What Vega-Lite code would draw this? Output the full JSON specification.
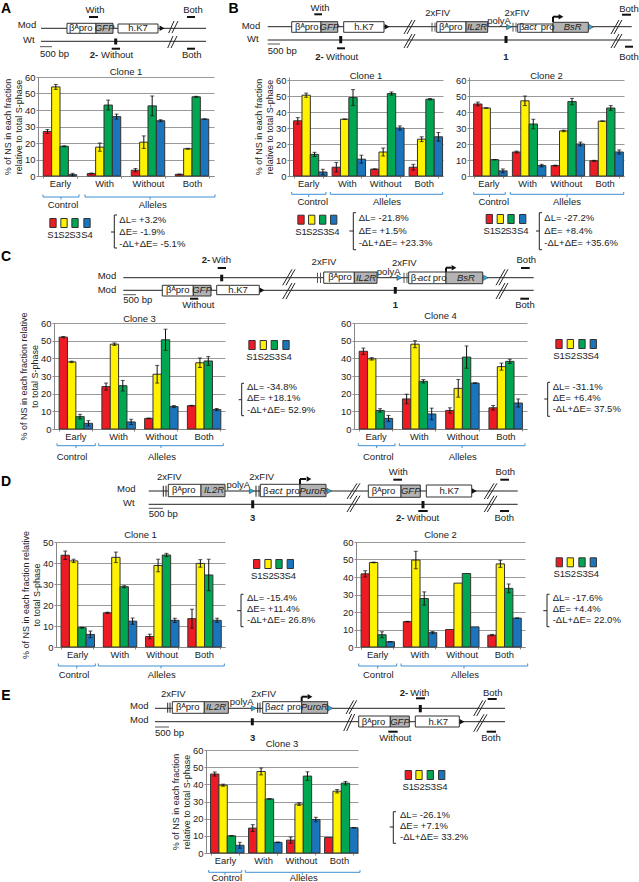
{"$schema":"https://vega.github.io/schema/vega-lite/v6.json","padding":0,"background":"white","spacing":-40,"align":"none",
"config":{"font":"Liberation Sans","view":{"stroke":null},"range":{"category":["#ed1c24","#fff200","#00a651","#1b75bc"]},"text":{"fontSize":9.5,"color":"#222"},"title":{"fontSize":9.5,"fontWeight":"normal","color":"#222"},"axis":{"labelFontSize":9.4,"labelColor":"#222","titleFontSize":9,"titleFontWeight":"normal","titleColor":"#222","tickColor":"#888","domainColor":"#888","gridColor":"#999","tickSize":2,"labelPadding":1},"axisX":{"grid":false,"labelAngle":0,"tickBand":"extent","labelPadding":1},"axisY":{"grid":true,"titlePadding":1,"titleLineHeight":11.5,"tickCount":7}},
"datasets":{
"A":[{"g":"Early","s":"S1","v":27,"l":25.8,"h":28.2},{"g":"Early","s":"S2","v":54,"l":52.5,"h":55.5},{"g":"Early","s":"S3","v":18,"l":17.7,"h":18.3},{"g":"Early","s":"S4","v":0.8,"l":0.1,"h":1.6},{"g":"With","s":"S1","v":1.5,"l":1.2,"h":1.8},{"g":"With","s":"S2","v":17.5,"l":15,"h":20},{"g":"With","s":"S3","v":43,"l":40,"h":46},{"g":"With","s":"S4","v":36,"l":34.5,"h":37.5},{"g":"Without","s":"S1","v":3.5,"l":2.5,"h":4.5},{"g":"Without","s":"S2","v":20.5,"l":16.7,"h":24.3},{"g":"Without","s":"S3","v":42.5,"l":36.5,"h":48.5},{"g":"Without","s":"S4","v":33.5,"l":32.9,"h":34.1},{"g":"Both","s":"S1","v":1,"l":0.8,"h":1.2},{"g":"Both","s":"S2","v":16.5,"l":16.2,"h":16.8},{"g":"Both","s":"S3","v":48,"l":47.7,"h":48.3},{"g":"Both","s":"S4","v":34.5,"l":34.4,"h":34.6}],
"B1":[{"g":"Early","s":"S1","v":34.5,"l":32.5,"h":36.5},{"g":"Early","s":"S2","v":50.5,"l":49.2,"h":51.8},{"g":"Early","s":"S3","v":13.5,"l":12.2,"h":14.8},{"g":"Early","s":"S4","v":2.5,"l":0.8,"h":4.2},{"g":"With","s":"S1","v":5.5,"l":2.5,"h":8.5},{"g":"With","s":"S2","v":35.5,"l":35.4,"h":35.6},{"g":"With","s":"S3","v":49,"l":44,"h":54},{"g":"With","s":"S4","v":10.5,"l":8,"h":13},{"g":"Without","s":"S1","v":4.3,"l":4.2,"h":4.4},{"g":"Without","s":"S2","v":15,"l":12.5,"h":17.5},{"g":"Without","s":"S3","v":51.5,"l":50.5,"h":52.5},{"g":"Without","s":"S4","v":30,"l":28.7,"h":31.3},{"g":"Both","s":"S1","v":5.5,"l":3.7,"h":7.3},{"g":"Both","s":"S2","v":23,"l":21.5,"h":24.5},{"g":"Both","s":"S3","v":48,"l":47.6,"h":48.4},{"g":"Both","s":"S4","v":24.5,"l":21.8,"h":27.2}],
"B2":[{"g":"Early","s":"S1","v":45,"l":43.8,"h":46.2},{"g":"Early","s":"S2","v":42.5,"l":42.4,"h":42.6},{"g":"Early","s":"S3","v":10.2,"l":10.1,"h":10.3},{"g":"Early","s":"S4","v":3.2,"l":2,"h":4.4},{"g":"With","s":"S1","v":15,"l":14.4,"h":15.6},{"g":"With","s":"S2","v":47,"l":44,"h":50},{"g":"With","s":"S3","v":32.5,"l":29.5,"h":35.5},{"g":"With","s":"S4","v":6.5,"l":5.7,"h":7.3},{"g":"Without","s":"S1","v":6.5,"l":6.2,"h":6.8},{"g":"Without","s":"S2","v":28.2,"l":27.7,"h":28.7},{"g":"Without","s":"S3","v":46.5,"l":44.5,"h":48.5},{"g":"Without","s":"S4","v":20,"l":18.8,"h":21.2},{"g":"Both","s":"S1","v":9.5,"l":9.2,"h":9.8},{"g":"Both","s":"S2","v":34.3,"l":34.2,"h":34.4},{"g":"Both","s":"S3","v":42.5,"l":41,"h":44},{"g":"Both","s":"S4","v":15,"l":13.7,"h":16.3}],
"C3":[{"g":"Early","s":"S1","v":52,"l":51.7,"h":52.3},{"g":"Early","s":"S2","v":38,"l":37.6,"h":38.4},{"g":"Early","s":"S3","v":7,"l":5.7,"h":8.3},{"g":"Early","s":"S4","v":3.2,"l":1.7,"h":4.7},{"g":"With","s":"S1","v":24,"l":22,"h":26},{"g":"With","s":"S2","v":48,"l":47.3,"h":48.7},{"g":"With","s":"S3","v":24.5,"l":21.5,"h":27.5},{"g":"With","s":"S4","v":4,"l":2.5,"h":5.5},{"g":"Without","s":"S1","v":6,"l":5.8,"h":6.2},{"g":"Without","s":"S2","v":31,"l":26,"h":36},{"g":"Without","s":"S3","v":50.5,"l":44.5,"h":56.5},{"g":"Without","s":"S4","v":12.7,"l":12.1,"h":13.3},{"g":"Both","s":"S1","v":13.2,"l":13,"h":13.4},{"g":"Both","s":"S2","v":37.5,"l":34.8,"h":40.2},{"g":"Both","s":"S3","v":38.5,"l":36,"h":41},{"g":"Both","s":"S4","v":11,"l":10.4,"h":11.6}],
"C4":[{"g":"Early","s":"S1","v":44,"l":42.2,"h":45.8},{"g":"Early","s":"S2","v":39.7,"l":39,"h":40.4},{"g":"Early","s":"S3","v":10.5,"l":9.5,"h":11.5},{"g":"Early","s":"S4","v":6,"l":4.3,"h":7.7},{"g":"With","s":"S1","v":17,"l":14.3,"h":19.7},{"g":"With","s":"S2","v":48,"l":46,"h":50},{"g":"With","s":"S3","v":27,"l":26,"h":28},{"g":"With","s":"S4","v":8.5,"l":5.2,"h":11.8},{"g":"Without","s":"S1","v":10.5,"l":9,"h":12},{"g":"Without","s":"S2","v":23,"l":18,"h":28},{"g":"Without","s":"S3","v":40.7,"l":34.4,"h":47},{"g":"Without","s":"S4","v":26,"l":25.9,"h":26.1},{"g":"Both","s":"S1","v":12,"l":10.7,"h":13.3},{"g":"Both","s":"S2","v":35.3,"l":33.3,"h":37.3},{"g":"Both","s":"S3","v":38.3,"l":37.1,"h":39.5},{"g":"Both","s":"S4","v":14.7,"l":12.4,"h":17}],
"D1":[{"g":"Early","s":"S1","v":43.7,"l":41.7,"h":45.7},{"g":"Early","s":"S2","v":41,"l":40.2,"h":41.8},{"g":"Early","s":"S3","v":9.2,"l":9,"h":9.4},{"g":"Early","s":"S4","v":6,"l":4.4,"h":7.6},{"g":"With","s":"S1","v":16.3,"l":16,"h":16.6},{"g":"With","s":"S2","v":42.7,"l":40.2,"h":45.2},{"g":"With","s":"S3","v":28.7,"l":28.2,"h":29.2},{"g":"With","s":"S4","v":12.3,"l":10.8,"h":13.8},{"g":"Without","s":"S1","v":5,"l":3.9,"h":6.1},{"g":"Without","s":"S2","v":38.8,"l":35.8,"h":41.8},{"g":"Without","s":"S3","v":43.8,"l":43,"h":44.6},{"g":"Without","s":"S4","v":12.7,"l":11.7,"h":13.7},{"g":"Both","s":"S1","v":13.5,"l":9,"h":18},{"g":"Both","s":"S2","v":39.8,"l":38,"h":41.6},{"g":"Both","s":"S3","v":34.3,"l":26.8,"h":41.8},{"g":"Both","s":"S4","v":12.7,"l":11.7,"h":13.7}],
"D2":[{"g":"Early","s":"S1","v":41.8,"l":40,"h":43.6},{"g":"Early","s":"S2","v":48.3,"l":48.1,"h":48.5},{"g":"Early","s":"S3","v":7,"l":5.3,"h":8.7},{"g":"Early","s":"S4","v":3,"l":2.9,"h":3.1},{"g":"With","s":"S1","v":14.5,"l":14.3,"h":14.7},{"g":"With","s":"S2","v":49.7,"l":44.7,"h":54.7},{"g":"With","s":"S3","v":27.7,"l":23.9,"h":31.5},{"g":"With","s":"S4","v":8.2,"l":7.6,"h":8.8},{"g":"Without","s":"S1","v":10},{"g":"Without","s":"S2","v":36.5},{"g":"Without","s":"S3","v":42},{"g":"Without","s":"S4","v":11.5},{"g":"Both","s":"S1","v":6.8,"l":6.4,"h":7.2},{"g":"Both","s":"S2","v":47.5,"l":45.5,"h":49.5},{"g":"Both","s":"S3","v":33.5,"l":31,"h":36},{"g":"Both","s":"S4","v":16.5,"l":16.4,"h":16.6}],
"E3":[{"g":"Early","s":"S1","v":46,"l":44.8,"h":47.2},{"g":"Early","s":"S2","v":39.5,"l":38.9,"h":40.1},{"g":"Early","s":"S3","v":10,"l":9.9,"h":10.1},{"g":"Early","s":"S4","v":4.5,"l":2.8,"h":6.2},{"g":"With","s":"S1","v":14.5,"l":12.5,"h":16.5},{"g":"With","s":"S2","v":47.5,"l":45.5,"h":49.5},{"g":"With","s":"S3","v":31.5,"l":31.4,"h":31.6},{"g":"With","s":"S4","v":6.2,"l":6,"h":6.4},{"g":"Without","s":"S1","v":7.5,"l":5.7,"h":9.3},{"g":"Without","s":"S2","v":28.5,"l":27.7,"h":29.3},{"g":"Without","s":"S3","v":44.8,"l":42.3,"h":47.3},{"g":"Without","s":"S4","v":19.5,"l":18.2,"h":20.8},{"g":"Both","s":"S1","v":9},{"g":"Both","s":"S2","v":36,"l":35,"h":37},{"g":"Both","s":"S3","v":40.7,"l":39.7,"h":41.7},{"g":"Both","s":"S4","v":14.7,"l":14.6,"h":14.8}]
},
"vconcat":[
{"width":639,"height":107,"encoding":{"x":{"field":"x","type":"quantitative","scale":{"domain":[0,6390]},"axis":null},"y":{"field":"y","type":"quantitative","scale":{"domain":[0,1070],"reverse":true},"axis":null}},"layer":[
{"data":{"values":[{"x":400,"u":2050,"y":283,"v":283},{"x":400,"u":2050,"y":413,"v":413},{"x":1677,"u":1730,"y":330,"v":210},{"x":1710,"u":1770,"y":330,"v":210},{"x":1667,"u":1720,"y":480,"v":360},{"x":1700,"u":1760,"y":480,"v":360},{"x":2667,"u":6307,"y":267,"v":267},{"x":2667,"u":6307,"y":400,"v":400},{"x":4030,"u":4110,"y":340,"v":200},{"x":4060,"u":4140,"y":340,"v":200},{"x":4030,"u":4110,"y":480,"v":340},{"x":4060,"u":4140,"y":480,"v":340},{"x":6100,"u":6180,"y":340,"v":200},{"x":6130,"u":6210,"y":340,"v":200},{"x":6100,"u":6180,"y":480,"v":340},{"x":6130,"u":6210,"y":480,"v":340}]},"mark":{"type":"rule","color":"#222"},"encoding":{"x2":{"field":"u"},"y2":{"field":"v"}}},
{"data":{"values":[{"x":390,"u":510,"y":467,"v":467},{"x":2667,"u":2790,"y":440,"v":440},{"x":4310,"u":4310,"y":227,"v":317},{"x":4340,"u":4340,"y":227,"v":317},{"x":5120,"u":5120,"y":227,"v":317},{"x":5150,"u":5150,"y":227,"v":317}]},"mark":{"type":"rule","color":"#555"},"encoding":{"x2":{"field":"u"},"y2":{"field":"v"}}},
{"data":{"values":[{"x":880,"u":970,"y":170,"v":170},{"x":1860,"u":1940,"y":170,"v":170},{"x":1107,"u":1190,"y":487,"v":487},{"x":1860,"u":1940,"y":487,"v":487},{"x":3133,"u":3210,"y":143,"v":143},{"x":3360,"u":3440,"y":483,"v":483},{"x":6210,"u":6300,"y":147,"v":147},{"x":6240,"u":6320,"y":467,"v":467},{"x":5520,"u":5520,"y":220,"v":167},{"x":5520,"u":5580,"y":167,"v":167}]},"mark":{"type":"rule","color":"#111","strokeWidth":2},"encoding":{"x2":{"field":"u"},"y2":{"field":"v"}}},
{"data":{"values":[{"x":1147,"u":1147,"y":385,"v":445},{"x":3397,"u":3397,"y":360,"v":433},{"x":5050,"u":5050,"y":360,"v":430}]},"mark":{"type":"rule","color":"#111","strokeWidth":3},"encoding":{"x2":{"field":"u"},"y2":{"field":"v"}}},
{"data":{"values":[{"x":660,"u":950,"y":233,"v":333},{"x":1170,"u":1570,"y":240,"v":330},{"x":2907,"u":3200,"y":217,"v":323},{"x":3427,"u":3830,"y":217,"v":323},{"x":4357,"u":4650,"y":217,"v":323},{"x":5167,"u":5520,"y":240,"v":323}]},"mark":{"type":"rect","fill":"white","stroke":"#333"},"encoding":{"x2":{"field":"u"},"y2":{"field":"v"}}},
{"data":{"values":[{"x":950,"u":1120,"y":233,"v":333},{"x":3200,"u":3367,"y":217,"v":323},{"x":4650,"u":4867,"y":217,"v":323},{"x":5520,"u":5873,"y":223,"v":323}]},"mark":{"type":"rect","fill":"#b3b3b3","stroke":"#333"},"encoding":{"x2":{"field":"u"},"y2":{"field":"v"}}},
{"data":{"values":[{"x":1610,"y":283},{"x":3860,"y":267},{"x":5600,"y":167}]},"mark":{"type":"point","shape":"triangle-right","filled":true,"size":30,"color":"#111","opacity":1}},
{"data":{"values":[{"x":5080,"y":270},{"x":5900,"y":270}]},"mark":{"type":"point","shape":"triangle-right","filled":true,"size":30,"fill":"#29abe2","stroke":"#333","strokeWidth":0.5,"opacity":1}},
{"data":{"values":[{"x":167,"y":250,"t":"Mod"},{"x":220,"y":400,"t":"Wt"},{"x":390,"y":535,"t":"500 bp"},{"x":1000,"y":550,"t":"Without"},{"x":680,"y":283,"t":"βᴬpro"},{"x":2407,"y":260,"t":"Mod"},{"x":2460,"y":390,"t":"Wt"},{"x":2667,"y":510,"t":"500 bp"},{"x":3250,"y":570,"t":"Without"},{"x":2940,"y":270,"t":"βᴬpro"},{"x":4380,"y":270,"t":"βᴬpro"},{"x":5180,"y":270,"t":"β-"},{"x":5397,"y":270,"t":"pro"}]},"mark":{"type":"text","align":"left"},"encoding":{"text":{"field":"t","type":"nominal"}}},
{"data":{"values":[{"x":940,"y":100,"t":"With"},{"x":1920,"y":100,"t":"Both"},{"x":1907,"y":550,"t":"Both"},{"x":1370,"y":283,"t":"h.K7"},{"x":3190,"y":83,"t":"With"},{"x":4367,"y":130,"t":"2xFIV"},{"x":4980,"y":207,"t":"polyA"},{"x":5160,"y":130,"t":"2xFIV"},{"x":6280,"y":85,"t":"Both"},{"x":6280,"y":570,"t":"Both"},{"x":3630,"y":270,"t":"h.K7"}]},"mark":{"type":"text","align":"center"},"encoding":{"text":{"field":"t","type":"nominal"}}},
{"data":{"values":[{"x":930,"y":550,"t":"2-"},{"x":3185,"y":570,"t":"2-"},{"x":5050,"y":570,"t":"1"}]},"mark":{"type":"text","fontWeight":"bold"},"encoding":{"text":{"field":"t","type":"nominal"}}},
{"data":{"values":[{"x":1035,"y":283,"t":"GFP"},{"x":3283,"y":270,"t":"GFP"},{"x":4760,"y":270,"t":"IL2R"},{"x":5293,"y":270,"t":"act"},{"x":5717,"y":270,"t":"BsR"}]},"mark":{"type":"text","fontStyle":"italic"},"encoding":{"text":{"field":"t","type":"nominal"}}},
{"data":{"values":[{"x":50,"y":85,"t":"A"},{"x":2325,"y":85,"t":"B"}]},"mark":{"type":"text","fontWeight":"bold","fontSize":14,"color":"#000"},"encoding":{"text":{"field":"t","type":"nominal"}}}
]},
{"bounds":"flush","spacing":0,"hconcat":[
{"width":37,"height":1,"data":{"values":[]},"mark":"point"},
{"width":176,"height":99,"title":{"text":"Clone 1","offset":-4.5},"data":{"name":"A"},"encoding":{"x":{"field":"g","type":"nominal","sort":null,"axis":{"title":null},"scale":{"paddingInner":0.24,"paddingOuter":0.12}},"xOffset":{"field":"s","type":"nominal"}},"layer":[
{"mark":{"type":"bar","stroke":"#333"},"encoding":{"y":{"field":"v","type":"quantitative","scale":{"domain":[0,60],"nice":false},"axis":{"title":["% of NS in each fraction","relative to total S-phase"]}},"color":{"field":"s","type":"nominal","legend":null}}},
{"mark":{"type":"rule","color":"#111"},"encoding":{"y":{"field":"l","type":"quantitative"},"y2":{"field":"h"}}},
{"mark":{"type":"tick","size":4,"thickness":1,"color":"#111"},"encoding":{"y":{"field":"l","type":"quantitative"}}},
{"mark":{"type":"tick","size":4,"thickness":1,"color":"#111"},"encoding":{"y":{"field":"h","type":"quantitative"}}}]},
{"width":75,"height":1,"data":{"values":[]},"mark":"point"},
{"width":154,"height":99,"title":{"text":"Clone 1","offset":-5},"data":{"name":"B1"},"encoding":{"x":{"field":"g","type":"nominal","sort":null,"axis":{"title":null},"scale":{"paddingInner":0.24,"paddingOuter":0.12}},"xOffset":{"field":"s","type":"nominal"}},"layer":[
{"mark":{"type":"bar","stroke":"#333"},"encoding":{"y":{"field":"v","type":"quantitative","scale":{"domain":[0,61.875],"nice":false},"axis":{"title":["% of NS in each fraction","relative to total S-phase"]}},"color":{"field":"s","type":"nominal","legend":null}}},
{"mark":{"type":"rule","color":"#111"},"encoding":{"y":{"field":"l","type":"quantitative"},"y2":{"field":"h"}}},
{"mark":{"type":"tick","size":4,"thickness":1,"color":"#111"},"encoding":{"y":{"field":"l","type":"quantitative"}}},
{"mark":{"type":"tick","size":4,"thickness":1,"color":"#111"},"encoding":{"y":{"field":"h","type":"quantitative"}}}]},
{"width":26,"height":1,"data":{"values":[]},"mark":"point"},
{"width":155,"height":99,"title":{"text":"Clone 2","offset":-5},"data":{"name":"B2"},"encoding":{"x":{"field":"g","type":"nominal","sort":null,"axis":{"title":null},"scale":{"paddingInner":0.24,"paddingOuter":0.12}},"xOffset":{"field":"s","type":"nominal"}},"layer":[
{"mark":{"type":"bar","stroke":"#333"},"encoding":{"y":{"field":"v","type":"quantitative","scale":{"domain":[0,61.875],"nice":false},"axis":{"title":null}},"color":{"field":"s","type":"nominal","legend":null}}},
{"mark":{"type":"rule","color":"#111"},"encoding":{"y":{"field":"l","type":"quantitative"},"y2":{"field":"h"}}},
{"mark":{"type":"tick","size":4,"thickness":1,"color":"#111"},"encoding":{"y":{"field":"l","type":"quantitative"}}},
{"mark":{"type":"tick","size":4,"thickness":1,"color":"#111"},"encoding":{"y":{"field":"h","type":"quantitative"}}}]}
]},

{"width":639,"height":203,"encoding":{"x":{"field":"x","type":"quantitative","scale":{"domain":[0,6390]},"axis":null},"y":{"field":"y","type":"quantitative","scale":{"domain":[1460,3490],"reverse":true},"axis":null}},"layer":[
{"data":{"values":[{"x":1223,"u":5327,"y":2757,"v":2757},{"x":1223,"u":5327,"y":2883,"v":2883},{"x":2817,"u":2910,"y":2833,"v":2673},{"x":2850,"u":2940,"y":2833,"v":2673},{"x":2817,"u":2910,"y":2970,"v":2810},{"x":2850,"u":2940,"y":2970,"v":2810},{"x":4950,"u":5040,"y":2833,"v":2673},{"x":4980,"u":5070,"y":2833,"v":2673},{"x":4950,"u":5040,"y":2970,"v":2810},{"x":4980,"u":5070,"y":2970,"v":2810},{"x":1133,"u":1133,"y":2130,"v":2460},{"x":1133,"u":1160,"y":2130,"v":2130},{"x":1133,"u":1160,"y":2460,"v":2460},{"x":1100,"u":1133,"y":2300,"v":2300},{"x":3523,"u":3523,"y":2107,"v":2477},{"x":3523,"u":3550,"y":2107,"v":2107},{"x":3523,"u":3550,"y":2477,"v":2477},{"x":3483,"u":3523,"y":2290,"v":2290},{"x":5383,"u":5383,"y":2107,"v":2477},{"x":5383,"u":5410,"y":2107,"v":2107},{"x":5383,"u":5410,"y":2477,"v":2477},{"x":5350,"u":5383,"y":2290,"v":2290}]},"mark":{"type":"rule","color":"#222"},"encoding":{"x2":{"field":"u"},"y2":{"field":"v"}}},
{"data":{"values":[{"x":420,"u":780,"y":1950,"v":1950},{"x":420,"u":420,"y":1925,"v":1950},{"x":780,"u":780,"y":1925,"v":1950},{"x":600,"u":600,"y":1950,"v":1975},{"x":840,"u":2140,"y":1950,"v":1950},{"x":840,"u":840,"y":1925,"v":1950},{"x":2140,"u":2140,"y":1925,"v":1950},{"x":1490,"u":1490,"y":1950,"v":1975},{"x":2907,"u":3250,"y":1923,"v":1923},{"x":2907,"u":2907,"y":1900,"v":1923},{"x":3250,"u":3250,"y":1900,"v":1923},{"x":3077,"u":3077,"y":1923,"v":1950},{"x":3293,"u":4417,"y":1923,"v":1923},{"x":3293,"u":3293,"y":1900,"v":1923},{"x":4417,"u":4417,"y":1900,"v":1923},{"x":3855,"u":3855,"y":1923,"v":1950},{"x":4727,"u":5043,"y":1923,"v":1923},{"x":4727,"u":4727,"y":1900,"v":1923},{"x":5043,"u":5043,"y":1900,"v":1923},{"x":4885,"u":4885,"y":1923,"v":1950},{"x":5093,"u":6227,"y":1923,"v":1923},{"x":5093,"u":5093,"y":1900,"v":1923},{"x":6227,"u":6227,"y":1900,"v":1923},{"x":5660,"u":5660,"y":1923,"v":1950}]},"mark":{"type":"rule","color":"#3f8fd2"},"encoding":{"x2":{"field":"u"},"y2":{"field":"v"}}},
{"data":{"values":[{"x":1223,"u":1350,"y":2927,"v":2927},{"x":3165,"u":3165,"y":2707,"v":2810},{"x":3195,"u":3195,"y":2707,"v":2810},{"x":4030,"u":4030,"y":2707,"v":2810},{"x":4060,"u":4060,"y":2707,"v":2810}]},"mark":{"type":"rule","color":"#555"},"encoding":{"x2":{"field":"u"},"y2":{"field":"v"}}},
{"data":{"values":[{"x":2167,"u":2250,"y":2660,"v":2660},{"x":1890,"u":1973,"y":2967,"v":2967},{"x":5200,"u":5287,"y":2660,"v":2660},{"x":5193,"u":5280,"y":2967,"v":2967},{"x":4450,"u":4450,"y":2700,"v":2657},{"x":4450,"u":4507,"y":2657,"v":2657}]},"mark":{"type":"rule","color":"#111","strokeWidth":2},"encoding":{"x2":{"field":"u"},"y2":{"field":"v"}}},
{"data":{"values":[{"x":2207,"u":2207,"y":2727,"v":2793},{"x":3943,"u":3943,"y":2850,"v":2917}]},"mark":{"type":"rule","color":"#111","strokeWidth":3},"encoding":{"x2":{"field":"u"},"y2":{"field":"v"}}},
{"data":{"values":[{"x":1613,"u":1923,"y":2833,"v":2940},{"x":2157,"u":2583,"y":2833,"v":2927},{"x":3227,"u":3533,"y":2700,"v":2813},{"x":4077,"u":4450,"y":2700,"v":2817}]},"mark":{"type":"rect","fill":"white","stroke":"#333"},"encoding":{"x2":{"field":"u"},"y2":{"field":"v"}}},
{"data":{"values":[{"x":1923,"u":2100,"y":2833,"v":2940},{"x":3533,"u":3760,"y":2700,"v":2813},{"x":4450,"u":4817,"y":2700,"v":2817}]},"mark":{"type":"rect","fill":"#b3b3b3","stroke":"#333"},"encoding":{"x2":{"field":"u"},"y2":{"field":"v"}}},
{"data":{"values":[{"x":2610,"y":2883},{"x":4530,"y":2657}]},"mark":{"type":"point","shape":"triangle-right","filled":true,"size":30,"color":"#111","opacity":1}},
{"data":{"values":[{"x":3983,"y":2757},{"x":4847,"y":2757}]},"mark":{"type":"point","shape":"triangle-right","filled":true,"size":30,"fill":"#29abe2","stroke":"#333","strokeWidth":0.5,"opacity":1}},
{"data":{"values":[{"x":520,"y":2210,"s":"S1"},{"x":630,"y":2210,"s":"S2"},{"x":740,"y":2210,"s":"S3"},{"x":860,"y":2210,"s":"S4"},{"x":3000,"y":2177,"s":"S1"},{"x":3107,"y":2177,"s":"S2"},{"x":3217,"y":2177,"s":"S3"},{"x":3327,"y":2177,"s":"S4"},{"x":4883,"y":2170,"s":"S1"},{"x":4993,"y":2170,"s":"S2"},{"x":5100,"y":2170,"s":"S3"},{"x":5217,"y":2170,"s":"S4"}]},"layer":[{"mark":{"type":"point","shape":"M-0.7,-1H0.7V1H-0.7Z","filled":true,"size":81,"stroke":"#333","strokeWidth":1,"opacity":1},"encoding":{"fill":{"field":"s","type":"nominal","scale":{"range":["#ed1c24","#fff200","#00a651","#1b75bc"]},"legend":null}}},{"mark":{"type":"text","dy":12},"encoding":{"text":{"field":"s","type":"nominal"}}}]},
{"data":{"values":[{"x":967,"y":2740,"t":"Mod"},{"x":967,"y":2877,"t":"Mod"},{"x":1223,"y":2983,"t":"500 bp"},{"x":1650,"y":2880,"t":"βᴬpro"},{"x":3273,"y":2750,"t":"βᴬpro"},{"x":4097,"y":2760,"t":"β-"},{"x":4317,"y":2760,"t":"pro"},{"x":2110,"y":2580,"t":"With"},{"x":1183,"y":2177,"t":"ΔL= +3.2%"},{"x":1183,"y":2300,"t":"ΔE= -1.9%"},{"x":1183,"y":2423,"t":"-ΔL+ΔE= -5.1%"},{"x":3577,"y":2160,"t":"ΔL= -21.8%"},{"x":3577,"y":2287,"t":"ΔE= +1.5%"},{"x":3577,"y":2407,"t":"-ΔL+ΔE= +23.3%"},{"x":5433,"y":2160,"t":"ΔL= -27.2%"},{"x":5433,"y":2287,"t":"ΔE= +8.4%"},{"x":5433,"y":2407,"t":"-ΔL+ΔE= +35.6%"}]},"mark":{"type":"text","align":"left"},"encoding":{"text":{"field":"t","type":"nominal"}}},
{"data":{"values":[{"x":620,"y":2033,"t":"Control"},{"x":1517,"y":2033,"t":"Alleles"},{"x":3117,"y":2003,"t":"Control"},{"x":3860,"y":2003,"t":"Alleles"},{"x":4927,"y":2003,"t":"Control"},{"x":5660,"y":2003,"t":"Alleles"},{"x":1973,"y":3033,"t":"Without"},{"x":2370,"y":2883,"t":"h.K7"},{"x":3230,"y":2600,"t":"2xFIV"},{"x":3877,"y":2700,"t":"polyA"},{"x":4033,"y":2607,"t":"2xFIV"},{"x":5253,"y":2577,"t":"Both"},{"x":5240,"y":3033,"t":"Both"}]},"mark":{"type":"text","align":"center"},"encoding":{"text":{"field":"t","type":"nominal"}}},
{"data":{"values":[{"x":2050,"y":2580,"t":"2-"},{"x":3943,"y":3033,"t":"1"}]},"mark":{"type":"text","fontWeight":"bold"},"encoding":{"text":{"field":"t","type":"nominal"}}},
{"data":{"values":[{"x":2010,"y":2880,"t":"GFP"},{"x":3650,"y":2757,"t":"IL2R"},{"x":4233,"y":2760,"t":"act"},{"x":4650,"y":2760,"t":"BsR"}]},"mark":{"type":"text","fontStyle":"italic"},"encoding":{"text":{"field":"t","type":"nominal"}}},
{"data":{"values":[{"x":50,"y":2550,"t":"C"}]},"mark":{"type":"text","fontWeight":"bold","fontSize":14,"color":"#000"},"encoding":{"text":{"field":"t","type":"nominal"}}}
]},

{"bounds":"flush","spacing":0,"hconcat":[
{"width":53,"height":1,"data":{"values":[]},"mark":"point"},
{"width":171,"height":106,"title":{"text":"Clone 3","offset":-12},"data":{"name":"C3"},"encoding":{"x":{"field":"g","type":"nominal","sort":null,"axis":{"title":null},"scale":{"paddingInner":0.24,"paddingOuter":0.12}},"xOffset":{"field":"s","type":"nominal"}},"layer":[
{"mark":{"type":"bar","stroke":"#333"},"encoding":{"y":{"field":"v","type":"quantitative","scale":{"domain":[0,60],"nice":false},"axis":{"title":["% of NS in each fraction relative","to total S-phase"]}},"color":{"field":"s","type":"nominal","legend":null}}},
{"mark":{"type":"rule","color":"#111"},"encoding":{"y":{"field":"l","type":"quantitative"},"y2":{"field":"h"}}},
{"mark":{"type":"tick","size":4,"thickness":1,"color":"#111"},"encoding":{"y":{"field":"l","type":"quantitative"}}},
{"mark":{"type":"tick","size":4,"thickness":1,"color":"#111"},"encoding":{"y":{"field":"h","type":"quantitative"}}}]},
{"width":129,"height":106,"encoding":{"x":{"field":"x","type":"quantitative","scale":{"domain":[2240,3530]},"axis":null},"y":{"field":"y","type":"quantitative","scale":{"domain":[3240,4300],"reverse":true},"axis":null}},"layer":[
{"data":{"values":[{"x":2407,"u":2407,"y":3843,"v":4167},{"x":2407,"u":2430,"y":3843,"v":3843},{"x":2407,"u":2430,"y":4167,"v":4167},{"x":2377,"u":2407,"y":4007,"v":4007}]},"mark":{"type":"rule","color":"#222"},"encoding":{"x2":{"field":"u"},"y2":{"field":"v"}}},
{"data":{"values":[{"x":2510,"y":3460,"s":"S1"},{"x":2623,"y":3460,"s":"S2"},{"x":2733,"y":3460,"s":"S3"},{"x":2850,"y":3460,"s":"S4"}]},"layer":[{"mark":{"type":"point","shape":"M-0.7,-1H0.7V1H-0.7Z","filled":true,"size":81,"stroke":"#333","strokeWidth":1,"opacity":1},"encoding":{"fill":{"field":"s","type":"nominal","scale":{"range":["#ed1c24","#fff200","#00a651","#1b75bc"]},"legend":null}}},{"mark":{"type":"text","dy":12},"encoding":{"text":{"field":"s","type":"nominal"}}}]},
{"data":{"values":[{"x":2460,"y":3883,"t":"ΔL= -34.8%"},{"x":2460,"y":3993,"t":"ΔE= +18.1%"},{"x":2460,"y":4107,"t":"-ΔL+ΔE= 52.9%"}]},"mark":{"type":"text","align":"left"},"encoding":{"text":{"field":"t","type":"nominal"}}}
]},
{"width":173,"height":106,"title":{"text":"Clone 4","offset":-2.5},"data":{"name":"C4"},"encoding":{"x":{"field":"g","type":"nominal","sort":null,"axis":{"title":null},"scale":{"paddingInner":0.24,"paddingOuter":0.12}},"xOffset":{"field":"s","type":"nominal"}},"layer":[
{"mark":{"type":"bar","stroke":"#333"},"encoding":{"y":{"field":"v","type":"quantitative","scale":{"domain":[0,60],"nice":false},"axis":{"title":null}},"color":{"field":"s","type":"nominal","legend":null}}},
{"mark":{"type":"rule","color":"#111"},"encoding":{"y":{"field":"l","type":"quantitative"},"y2":{"field":"h"}}},
{"mark":{"type":"tick","size":4,"thickness":1,"color":"#111"},"encoding":{"y":{"field":"l","type":"quantitative"}}},
{"mark":{"type":"tick","size":4,"thickness":1,"color":"#111"},"encoding":{"y":{"field":"h","type":"quantitative"}}}]},
{"width":113,"height":106,"encoding":{"x":{"field":"x","type":"quantitative","scale":{"domain":[5260,6390]},"axis":null},"y":{"field":"y","type":"quantitative","scale":{"domain":[3240,4300],"reverse":true},"axis":null}},"layer":[
{"data":{"values":[{"x":5467,"u":5467,"y":3833,"v":4173},{"x":5467,"u":5490,"y":3833,"v":3833},{"x":5467,"u":5490,"y":4173,"v":4173},{"x":5433,"u":5467,"y":4000,"v":4000}]},"mark":{"type":"rule","color":"#222"},"encoding":{"x2":{"field":"u"},"y2":{"field":"v"}}},
{"data":{"values":[{"x":5580,"y":3450,"s":"S1"},{"x":5693,"y":3450,"s":"S2"},{"x":5810,"y":3450,"s":"S3"},{"x":5923,"y":3450,"s":"S4"}]},"layer":[{"mark":{"type":"point","shape":"M-0.7,-1H0.7V1H-0.7Z","filled":true,"size":81,"stroke":"#333","strokeWidth":1,"opacity":1},"encoding":{"fill":{"field":"s","type":"nominal","scale":{"range":["#ed1c24","#fff200","#00a651","#1b75bc"]},"legend":null}}},{"mark":{"type":"text","dy":12},"encoding":{"text":{"field":"s","type":"nominal"}}}]},
{"data":{"values":[{"x":5517,"y":3880,"t":"ΔL= -31.1%"},{"x":5517,"y":3990,"t":"ΔE= +6.4%"},{"x":5517,"y":4100,"t":"-ΔL+ΔE= 37.5%"}]},"mark":{"type":"text","align":"left"},"encoding":{"text":{"field":"t","type":"nominal"}}}
]}
]},

{"width":639,"height":169,"encoding":{"x":{"field":"x","type":"quantitative","scale":{"domain":[0,6390]},"axis":null},"y":{"field":"y","type":"quantitative","scale":{"domain":[4010,5700],"reverse":true},"axis":null}},"layer":[
{"data":{"values":[{"x":1477,"u":5167,"y":4910,"v":4910},{"x":1477,"u":5167,"y":5043,"v":5043},{"x":3460,"u":3560,"y":4990,"v":4833},{"x":3490,"u":3590,"y":4990,"v":4833},{"x":3460,"u":3560,"y":5120,"v":4957},{"x":3490,"u":3590,"y":5120,"v":4957},{"x":4833,"u":4930,"y":4990,"v":4833},{"x":4863,"u":4960,"y":4990,"v":4833},{"x":4833,"u":4930,"y":5120,"v":4957},{"x":4863,"u":4960,"y":5120,"v":4957},{"x":1623,"u":1623,"y":4857,"v":4967},{"x":1650,"u":1650,"y":4857,"v":4967},{"x":2550,"u":2550,"y":4857,"v":4967},{"x":2580,"u":2580,"y":4857,"v":4967}]},"mark":{"type":"rule","color":"#222"},"encoding":{"x2":{"field":"u"},"y2":{"field":"v"}}},
{"data":{"values":[{"x":560,"u":943,"y":4457,"v":4457},{"x":560,"u":560,"y":4433,"v":4457},{"x":943,"u":943,"y":4433,"v":4457},{"x":750,"u":750,"y":4457,"v":4480},{"x":977,"u":2223,"y":4457,"v":4457},{"x":977,"u":977,"y":4433,"v":4457},{"x":2223,"u":2223,"y":4433,"v":4457},{"x":1600,"u":1600,"y":4457,"v":4480},{"x":3573,"u":3940,"y":4457,"v":4457},{"x":3573,"u":3573,"y":4433,"v":4457},{"x":3940,"u":3940,"y":4433,"v":4457},{"x":3757,"u":3757,"y":4457,"v":4480},{"x":3983,"u":5240,"y":4457,"v":4457},{"x":3983,"u":3983,"y":4433,"v":4457},{"x":5240,"u":5240,"y":4433,"v":4457},{"x":4610,"u":4610,"y":4457,"v":4480}]},"mark":{"type":"rule","color":"#3f8fd2"},"encoding":{"x2":{"field":"u"},"y2":{"field":"v"}}},
{"data":{"values":[{"x":1477,"u":1620,"y":5083,"v":5083}]},"mark":{"type":"rule","color":"#555"},"encoding":{"x2":{"field":"u"},"y2":{"field":"v"}}},
{"data":{"values":[{"x":3923,"u":4010,"y":4797,"v":4797},{"x":4993,"u":5080,"y":4797,"v":4797},{"x":4173,"u":4267,"y":5110,"v":5110},{"x":4990,"u":5080,"y":5110,"v":5110},{"x":2990,"u":2990,"y":4843,"v":4790},{"x":2990,"u":3050,"y":4790,"v":4790}]},"mark":{"type":"rule","color":"#111","strokeWidth":2},"encoding":{"x2":{"field":"u"},"y2":{"field":"v"}}},
{"data":{"values":[{"x":4220,"u":4220,"y":5010,"v":5083},{"x":2517,"u":2517,"y":5003,"v":5083}]},"mark":{"type":"rule","color":"#111","strokeWidth":3},"encoding":{"x2":{"field":"u"},"y2":{"field":"v"}}},
{"data":{"values":[{"x":1673,"u":2000,"y":4843,"v":4967},{"x":2593,"u":2990,"y":4843,"v":4967},{"x":3673,"u":4000,"y":4850,"v":4973},{"x":4253,"u":4707,"y":4850,"v":4970}]},"mark":{"type":"rect","fill":"white","stroke":"#333"},"encoding":{"x2":{"field":"u"},"y2":{"field":"v"}}},
{"data":{"values":[{"x":2000,"u":2240,"y":4843,"v":4967},{"x":2990,"u":3250,"y":4843,"v":4967},{"x":4000,"u":4193,"y":4850,"v":4973}]},"mark":{"type":"rect","fill":"#b3b3b3","stroke":"#333"},"encoding":{"x2":{"field":"u"},"y2":{"field":"v"}}},
{"data":{"values":[{"x":4733,"y":4910},{"x":3080,"y":4790}]},"mark":{"type":"point","shape":"triangle-right","filled":true,"size":30,"color":"#111","opacity":1}},
{"data":{"values":[{"x":2507,"y":4910},{"x":3283,"y":4910}]},"mark":{"type":"point","shape":"triangle-right","filled":true,"size":30,"fill":"#29abe2","stroke":"#333","strokeWidth":0.5,"opacity":1}},
{"data":{"values":[{"x":1160,"y":4890,"t":"Mod"},{"x":1220,"y":5027,"t":"Wt"},{"x":1477,"y":5140,"t":"500 bp"},{"x":1710,"y":4900,"t":"βᴬpro"},{"x":3707,"y":4910,"t":"βᴬpro"},{"x":2620,"y":4910,"t":"β-"},{"x":2850,"y":4910,"t":"pro"},{"x":4060,"y":5177,"t":"Without"}]},"mark":{"type":"text","align":"left"},"encoding":{"text":{"field":"t","type":"nominal"}}},
{"data":{"values":[{"x":710,"y":4567,"t":"Control"},{"x":1610,"y":4567,"t":"Alleles"},{"x":3773,"y":4567,"t":"Control"},{"x":4617,"y":4567,"t":"Alleles"},{"x":1683,"y":4767,"t":"2xFIV"},{"x":2373,"y":4850,"t":"polyA"},{"x":2607,"y":4767,"t":"2xFIV"},{"x":3973,"y":4723,"t":"With"},{"x":5043,"y":4723,"t":"Both"},{"x":5033,"y":5177,"t":"Both"},{"x":4483,"y":4910,"t":"h.K7"}]},"mark":{"type":"text","align":"center"},"encoding":{"text":{"field":"t","type":"nominal"}}},
{"data":{"values":[{"x":3993,"y":5177,"t":"2-"},{"x":2517,"y":5177,"t":"3"}]},"mark":{"type":"text","fontWeight":"bold"},"encoding":{"text":{"field":"t","type":"nominal"}}},
{"data":{"values":[{"x":2130,"y":4903,"t":"IL2R"},{"x":2750,"y":4910,"t":"act"},{"x":3120,"y":4910,"t":"PuroR"},{"x":4097,"y":4910,"t":"GFP"}]},"mark":{"type":"text","fontStyle":"italic"},"encoding":{"text":{"field":"t","type":"nominal"}}},
{"data":{"values":[{"x":50,"y":4817,"t":"D"}]},"mark":{"type":"text","fontWeight":"bold","fontSize":14,"color":"#000"},"encoding":{"text":{"field":"t","type":"nominal"}}}
]},

{"bounds":"flush","spacing":0,"hconcat":[
{"width":55,"height":1,"data":{"values":[]},"mark":"point"},
{"width":169,"height":105,"title":{"text":"Clone 1","offset":-9.5},"data":{"name":"D1"},"encoding":{"x":{"field":"g","type":"nominal","sort":null,"axis":{"title":null},"scale":{"paddingInner":0.24,"paddingOuter":0.12}},"xOffset":{"field":"s","type":"nominal"}},"layer":[
{"mark":{"type":"bar","stroke":"#333"},"encoding":{"y":{"field":"v","type":"quantitative","scale":{"domain":[0,50],"nice":false},"axis":{"title":["% of NS in each fraction relative","to total S-phase"]}},"color":{"field":"s","type":"nominal","legend":null}}},
{"mark":{"type":"rule","color":"#111"},"encoding":{"y":{"field":"l","type":"quantitative"},"y2":{"field":"h"}}},
{"mark":{"type":"tick","size":4,"thickness":1,"color":"#111"},"encoding":{"y":{"field":"l","type":"quantitative"}}},
{"mark":{"type":"tick","size":4,"thickness":1,"color":"#111"},"encoding":{"y":{"field":"h","type":"quantitative"}}}]},
{"width":131,"height":105,"encoding":{"x":{"field":"x","type":"quantitative","scale":{"domain":[2240,3550]},"axis":null},"y":{"field":"y","type":"quantitative","scale":{"domain":[5420,6470],"reverse":true},"axis":null}},"layer":[
{"data":{"values":[{"x":2400,"u":2400,"y":5943,"v":6267},{"x":2400,"u":2425,"y":5943,"v":5943},{"x":2400,"u":2425,"y":6267,"v":6267},{"x":2360,"u":2400,"y":6107,"v":6107}]},"mark":{"type":"rule","color":"#222"},"encoding":{"x2":{"field":"u"},"y2":{"field":"v"}}},
{"data":{"values":[{"x":2557,"y":5640,"s":"S1"},{"x":2670,"y":5640,"s":"S2"},{"x":2780,"y":5640,"s":"S3"},{"x":2893,"y":5640,"s":"S4"}]},"layer":[{"mark":{"type":"point","shape":"M-0.7,-1H0.7V1H-0.7Z","filled":true,"size":81,"stroke":"#333","strokeWidth":1,"opacity":1},"encoding":{"fill":{"field":"s","type":"nominal","scale":{"range":["#ed1c24","#fff200","#00a651","#1b75bc"]},"legend":null}}},{"mark":{"type":"text","dy":12},"encoding":{"text":{"field":"s","type":"nominal"}}}]},
{"data":{"values":[{"x":2460,"y":5977,"t":"ΔL= -15.4%"},{"x":2460,"y":6090,"t":"ΔE= +11.4%"},{"x":2460,"y":6203,"t":"-ΔL+ΔE= 26.8%"}]},"mark":{"type":"text","align":"left"},"encoding":{"text":{"field":"t","type":"nominal"}}}
]},
{"width":169,"height":105,"title":{"text":"Clone 2","offset":-2.5},"data":{"name":"D2"},"encoding":{"x":{"field":"g","type":"nominal","sort":null,"axis":{"title":null},"scale":{"paddingInner":0.24,"paddingOuter":0.12}},"xOffset":{"field":"s","type":"nominal"}},"layer":[
{"mark":{"type":"bar","stroke":"#333"},"encoding":{"y":{"field":"v","type":"quantitative","scale":{"domain":[0,60],"nice":false},"axis":{"title":null}},"color":{"field":"s","type":"nominal","legend":null}}},
{"mark":{"type":"rule","color":"#111"},"encoding":{"y":{"field":"l","type":"quantitative"},"y2":{"field":"h"}}},
{"mark":{"type":"tick","size":4,"thickness":1,"color":"#111"},"encoding":{"y":{"field":"l","type":"quantitative"}}},
{"mark":{"type":"tick","size":4,"thickness":1,"color":"#111"},"encoding":{"y":{"field":"h","type":"quantitative"}}}]},
{"width":115,"height":105,"encoding":{"x":{"field":"x","type":"quantitative","scale":{"domain":[5240,6390]},"axis":null},"y":{"field":"y","type":"quantitative","scale":{"domain":[5420,6470],"reverse":true},"axis":null}},"layer":[
{"data":{"values":[{"x":5460,"u":5460,"y":5943,"v":6267},{"x":5460,"u":5485,"y":5943,"v":5943},{"x":5460,"u":5485,"y":6267,"v":6267},{"x":5423,"u":5460,"y":6107,"v":6107}]},"mark":{"type":"rule","color":"#222"},"encoding":{"x2":{"field":"u"},"y2":{"field":"v"}}},
{"data":{"values":[{"x":5583,"y":5623,"s":"S1"},{"x":5693,"y":5623,"s":"S2"},{"x":5810,"y":5623,"s":"S3"},{"x":5923,"y":5623,"s":"S4"}]},"layer":[{"mark":{"type":"point","shape":"M-0.7,-1H0.7V1H-0.7Z","filled":true,"size":81,"stroke":"#333","strokeWidth":1,"opacity":1},"encoding":{"fill":{"field":"s","type":"nominal","scale":{"range":["#ed1c24","#fff200","#00a651","#1b75bc"]},"legend":null}}},{"mark":{"type":"text","dy":12},"encoding":{"text":{"field":"s","type":"nominal"}}}]},
{"data":{"values":[{"x":5517,"y":5977,"t":"ΔL= -17.6%"},{"x":5517,"y":6090,"t":"ΔE= +4.4%"},{"x":5517,"y":6203,"t":"-ΔL+ΔE= 22.0%"}]},"mark":{"type":"text","align":"left"},"encoding":{"text":{"field":"t","type":"nominal"}}}
]}
]},

{"width":639,"height":160,"encoding":{"x":{"field":"x","type":"quantitative","scale":{"domain":[0,6390]},"axis":null},"y":{"field":"y","type":"quantitative","scale":{"domain":[6180,7780],"reverse":true},"axis":null}},"layer":[
{"data":{"values":[{"x":1540,"u":5040,"y":7073,"v":7073},{"x":1540,"u":5040,"y":7207,"v":7207},{"x":3450,"u":3527,"y":7130,"v":6993},{"x":3480,"u":3557,"y":7130,"v":6993},{"x":3427,"u":3507,"y":7300,"v":7130},{"x":3457,"u":3537,"y":7300,"v":7130},{"x":4727,"u":4817,"y":7150,"v":6993},{"x":4757,"u":4847,"y":7150,"v":6993},{"x":4727,"u":4830,"y":7307,"v":7133},{"x":4757,"u":4860,"y":7307,"v":7133},{"x":1667,"u":1667,"y":7017,"v":7117},{"x":1690,"u":1690,"y":7017,"v":7117},{"x":2567,"u":2567,"y":7017,"v":7117},{"x":2590,"u":2590,"y":7017,"v":7117}]},"mark":{"type":"rule","color":"#222"},"encoding":{"x2":{"field":"u"},"y2":{"field":"v"}}},
{"data":{"values":[{"x":573,"u":943,"y":6650,"v":6650},{"x":573,"u":573,"y":6625,"v":6650},{"x":943,"u":943,"y":6625,"v":6650},{"x":757,"u":757,"y":6650,"v":6675},{"x":973,"u":2233,"y":6650,"v":6650},{"x":973,"u":973,"y":6625,"v":6650},{"x":2233,"u":2233,"y":6625,"v":6650},{"x":1600,"u":1600,"y":6650,"v":6675},{"x":3577,"u":3957,"y":6650,"v":6650},{"x":3577,"u":3577,"y":6625,"v":6650},{"x":3957,"u":3957,"y":6625,"v":6650},{"x":3767,"u":3767,"y":6650,"v":6675},{"x":4000,"u":5267,"y":6650,"v":6650},{"x":4000,"u":4000,"y":6625,"v":6650},{"x":5267,"u":5267,"y":6625,"v":6650},{"x":4630,"u":4630,"y":6650,"v":6675}]},"mark":{"type":"rule","color":"#3f8fd2"},"encoding":{"x2":{"field":"u"},"y2":{"field":"v"}}},
{"data":{"values":[{"x":1540,"u":1680,"y":7260,"v":7260}]},"mark":{"type":"rule","color":"#555"},"encoding":{"x2":{"field":"u"},"y2":{"field":"v"}}},
{"data":{"values":[{"x":4150,"u":4240,"y":6973,"v":6973},{"x":4867,"u":4957,"y":6980,"v":6980},{"x":4857,"u":4950,"y":7307,"v":7307},{"x":3873,"u":3967,"y":7307,"v":7307},{"x":3007,"u":3007,"y":7007,"v":6957},{"x":3007,"u":3067,"y":6957,"v":6957}]},"mark":{"type":"rule","color":"#111","strokeWidth":2},"encoding":{"x2":{"field":"u"},"y2":{"field":"v"}}},
{"data":{"values":[{"x":4193,"u":4193,"y":7040,"v":7113},{"x":2513,"u":2513,"y":7173,"v":7243}]},"mark":{"type":"rule","color":"#111","strokeWidth":3},"encoding":{"x2":{"field":"u"},"y2":{"field":"v"}}},
{"data":{"values":[{"x":1713,"u":2033,"y":7007,"v":7123},{"x":2617,"u":3007,"y":7007,"v":7123},{"x":3577,"u":3893,"y":7150,"v":7260},{"x":4143,"u":4583,"y":7150,"v":7260}]},"mark":{"type":"rect","fill":"white","stroke":"#333"},"encoding":{"x2":{"field":"u"},"y2":{"field":"v"}}},
{"data":{"values":[{"x":2033,"u":2273,"y":7007,"v":7123},{"x":3007,"u":3267,"y":7007,"v":7123},{"x":3893,"u":4083,"y":7150,"v":7260}]},"mark":{"type":"rect","fill":"#b3b3b3","stroke":"#333"},"encoding":{"x2":{"field":"u"},"y2":{"field":"v"}}},
{"data":{"values":[{"x":4610,"y":7207},{"x":3090,"y":6957}]},"mark":{"type":"point","shape":"triangle-right","filled":true,"size":30,"color":"#111","opacity":1}},
{"data":{"values":[{"x":2527,"y":7073},{"x":3293,"y":7073}]},"mark":{"type":"point","shape":"triangle-right","filled":true,"size":30,"fill":"#29abe2","stroke":"#333","strokeWidth":0.5,"opacity":1}},
{"data":{"values":[{"x":1290,"y":7050,"t":"Mod"},{"x":1290,"y":7190,"t":"Mod"},{"x":1540,"y":7317,"t":"500 bp"},{"x":1750,"y":7060,"t":"βᴬpro"},{"x":3607,"y":7207,"t":"βᴬpro"},{"x":2640,"y":7060,"t":"β-"},{"x":2860,"y":7060,"t":"pro"},{"x":4093,"y":6917,"t":"With"}]},"mark":{"type":"text","align":"left"},"encoding":{"text":{"field":"t","type":"nominal"}}},
{"data":{"values":[{"x":730,"y":6740,"t":"Control"},{"x":1607,"y":6740,"t":"Alleles"},{"x":3773,"y":6740,"t":"Control"},{"x":4640,"y":6740,"t":"Alleles"},{"x":1723,"y":6927,"t":"2xFIV"},{"x":2407,"y":7007,"t":"polyA"},{"x":2627,"y":6927,"t":"2xFIV"},{"x":4917,"y":6917,"t":"Both"},{"x":4900,"y":7373,"t":"Both"},{"x":3943,"y":7373,"t":"Without"},{"x":4373,"y":7207,"t":"h.K7"}]},"mark":{"type":"text","align":"center"},"encoding":{"text":{"field":"t","type":"nominal"}}},
{"data":{"values":[{"x":4030,"y":6917,"t":"2-"},{"x":2517,"y":7373,"t":"3"}]},"mark":{"type":"text","fontWeight":"bold"},"encoding":{"text":{"field":"t","type":"nominal"}}},
{"data":{"values":[{"x":2150,"y":7060,"t":"IL2R"},{"x":2760,"y":7060,"t":"act"},{"x":3135,"y":7060,"t":"PuroR"},{"x":3990,"y":7207,"t":"GFP"}]},"mark":{"type":"text","fontStyle":"italic"},"encoding":{"text":{"field":"t","type":"nominal"}}},
{"data":{"values":[{"x":50,"y":6950,"t":"E"}]},"mark":{"type":"text","fontWeight":"bold","fontSize":14,"color":"#000"},"encoding":{"text":{"field":"t","type":"nominal"}}}
]},

{"bounds":"flush","spacing":0,"hconcat":[
{"width":205,"height":1,"data":{"values":[]},"mark":"point"},
{"width":152,"height":103,"title":{"text":"Clone 3","offset":-3.5},"data":{"name":"E3"},"encoding":{"x":{"field":"g","type":"nominal","sort":null,"axis":{"title":null},"scale":{"paddingInner":0.24,"paddingOuter":0.12}},"xOffset":{"field":"s","type":"nominal"}},"layer":[
{"mark":{"type":"bar","stroke":"#333"},"encoding":{"y":{"field":"v","type":"quantitative","scale":{"domain":[0,60],"nice":false},"axis":{"title":["% of NS in each fraction","relative to total S-phase"]}},"color":{"field":"s","type":"nominal","legend":null}}},
{"mark":{"type":"rule","color":"#111"},"encoding":{"y":{"field":"l","type":"quantitative"},"y2":{"field":"h"}}},
{"mark":{"type":"tick","size":4,"thickness":1,"color":"#111"},"encoding":{"y":{"field":"l","type":"quantitative"}}},
{"mark":{"type":"tick","size":4,"thickness":1,"color":"#111"},"encoding":{"y":{"field":"h","type":"quantitative"}}}]},
{"width":282,"height":103,"encoding":{"x":{"field":"x","type":"quantitative","scale":{"domain":[3570,6390]},"axis":null},"y":{"field":"y","type":"quantitative","scale":{"domain":[7490,8520],"reverse":true},"axis":null}},"layer":[
{"data":{"values":[{"x":3923,"u":3923,"y":8107,"v":8423},{"x":3923,"u":3950,"y":8107,"v":8107},{"x":3923,"u":3950,"y":8423,"v":8423},{"x":3887,"u":3923,"y":8260,"v":8260}]},"mark":{"type":"rule","color":"#222"},"encoding":{"x2":{"field":"u"},"y2":{"field":"v"}}},
{"data":{"values":[{"x":4073,"y":7740,"s":"S1"},{"x":4180,"y":7740,"s":"S2"},{"x":4293,"y":7740,"s":"S3"},{"x":4407,"y":7740,"s":"S4"}]},"layer":[{"mark":{"type":"point","shape":"M-0.7,-1H0.7V1H-0.7Z","filled":true,"size":81,"stroke":"#333","strokeWidth":1,"opacity":1},"encoding":{"fill":{"field":"s","type":"nominal","scale":{"range":["#ed1c24","#fff200","#00a651","#1b75bc"]},"legend":null}}},{"mark":{"type":"text","dy":12},"encoding":{"text":{"field":"s","type":"nominal"}}}]},
{"data":{"values":[{"x":3990,"y":8140,"t":"ΔL= -26.1%"},{"x":3990,"y":8250,"t":"ΔE= +7.1%"},{"x":3990,"y":8360,"t":"-ΔL+ΔE= 33.2%"}]},"mark":{"type":"text","align":"left"},"encoding":{"text":{"field":"t","type":"nominal"}}}
]}
]},

{"width":639,"height":57,"encoding":{"x":{"field":"x","type":"quantitative","scale":{"domain":[0,6390]},"axis":null},"y":{"field":"y","type":"quantitative","scale":{"domain":[8250,8820],"reverse":true},"axis":null}},"layer":[
{"data":{"values":[{"x":2077,"u":2407,"y":8723,"v":8723},{"x":2077,"u":2077,"y":8700,"v":8723},{"x":2407,"u":2407,"y":8700,"v":8723},{"x":2240,"u":2240,"y":8723,"v":8750},{"x":2443,"u":3590,"y":8723,"v":8723},{"x":2443,"u":2443,"y":8700,"v":8723},{"x":3590,"u":3590,"y":8700,"v":8723},{"x":3013,"u":3013,"y":8723,"v":8750}]},"mark":{"type":"rule","color":"#3f8fd2"},"encoding":{"x2":{"field":"u"},"y2":{"field":"v"}}},
{"data":{"values":[{"x":2257,"y":8775,"t":"Control"},{"x":3027,"y":8775,"t":"Alleles"}]},"mark":{"type":"text","align":"center"},"encoding":{"text":{"field":"t","type":"nominal"}}}
]}
]}
